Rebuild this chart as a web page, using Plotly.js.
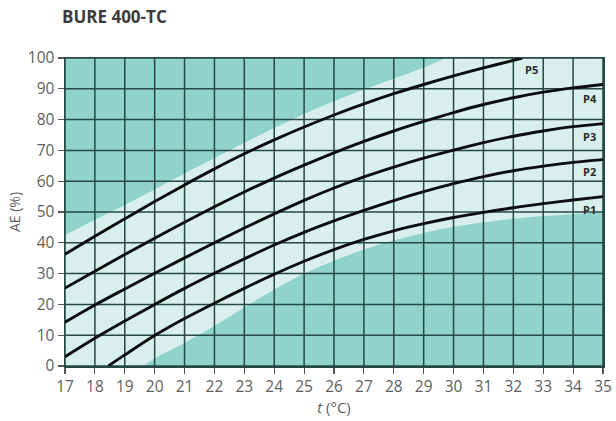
<!DOCTYPE html>
<html>
<head>
<meta charset="utf-8">
<script src="https://cdn.plot.ly/plotly-3.0.1.min.js"></script>
<style>
  html, body { margin: 0; padding: 0; background: #ffffff; }
  #chart { width: 616px; height: 421px; }
</style>
</head>
<body>
<div id="chart"></div>
<script>
// Temperature axis (°C) and efficiency axis (%)
const tTicks = [17, 18, 19, 20, 21, 22, 23, 24, 25, 26, 27, 28, 29, 30, 31, 32, 33, 34, 35];
const aeTicks = [0, 10, 20, 30, 40, 50, 60, 70, 80, 90, 100];
const tRange = [17, 35];
const aeRange = [0, 100];

// Curve P1
const p1T  = [18.45, 19, 20, 21, 22, 23, 24, 25, 26, 27, 28, 29, 30, 31, 32, 33, 34, 35];
const p1AE = [0, 3.6, 9.9, 15.4, 20.4, 25.2, 29.8, 34, 37.8, 41.1, 43.9, 46.2, 48.2, 49.9, 51.4, 52.7, 53.9, 55];
// Curve P2
const p2T  = [17, 18, 19, 20, 21, 22, 23, 24, 25, 26, 27, 28, 29, 30, 31, 32, 33, 34, 35];
const p2AE = [3, 9, 14.6, 20, 25.2, 30.1, 34.8, 39.3, 43.4, 47.1, 50.5, 53.7, 56.6, 59.2, 61.5, 63.4, 64.9, 66.1, 67];
// Curve P3
const p3T  = [17, 18, 19, 20, 21, 22, 23, 24, 25, 26, 27, 28, 29, 30, 31, 32, 33, 34, 35];
const p3AE = [14.2, 19.8, 25, 30.1, 35.1, 40, 44.8, 49.4, 53.8, 57.8, 61.4, 64.6, 67.5, 70.1, 72.5, 74.6, 76.3, 77.7, 78.7];
// Curve P4
const p4T  = [17, 18, 19, 20, 21, 22, 23, 24, 25, 26, 27, 28, 29, 30, 31, 32, 33, 34, 35];
const p4AE = [25.3, 30.8, 36.2, 41.5, 46.7, 51.7, 56.5, 61, 65.2, 69.2, 72.9, 76.3, 79.4, 82.3, 84.9, 87.1, 88.9, 90.3, 91.4];
// Curve P5
const p5T  = [17, 18, 19, 20, 21, 22, 23, 24, 25, 26, 27, 28, 29, 30, 31, 32, 32.3];
const p5AE = [36.3, 42.1, 47.8, 53.4, 58.8, 64, 68.9, 73.4, 77.6, 81.5, 85.1, 88.4, 91.4, 94.2, 96.8, 99.2, 100];

// Edges of the light operating band
const bandTopT  = [17, 18, 19, 20, 21, 22, 23, 24, 25, 26, 27, 28, 29, 29.8];
const bandTopAE = [42.5, 47.5, 52.3, 57.3, 62.5, 67.5, 72.5, 77.3, 81.8, 86, 89.8, 93.3, 96.8, 100];
const bandBotT  = [19.6, 20, 21, 22, 23, 24, 25, 26, 27, 28, 29, 30, 31, 32, 33, 34, 35];
const bandBotAE = [0, 2.5, 7.5, 13, 19, 24.8, 30, 34.2, 37.8, 40.8, 43.2, 45.2, 46.7, 47.8, 48.7, 49.3, 49.8];

// Curve labels
const curveNames = ['P5', 'P4', 'P3', 'P2', 'P1'];
const labelT  = [32.6, 34.55, 34.55, 34.55, 34.55];
const labelAE = [96.3, 87, 74.4, 63.2, 50.8];

const TEAL = 'rgb(143,211,203)';
const LIGHT = 'rgb(216,239,236)';
const GRID = 'rgb(38,72,66)';

// Closed outline of the light band (top edge, right side, bottom edge, left side)
const bandX = [].concat(bandTopT, [tRange[1]], [tRange[1]], bandBotT.slice().reverse(), [tRange[0]]);
const bandY = [].concat(bandTopAE, [aeRange[1]], [bandBotAE[bandBotAE.length - 1]], bandBotAE.slice().reverse(), [aeRange[0]]);

// Grid drawn as a trace so it sits above the band fill
const gridX = [], gridY = [];
tTicks.forEach(t => { gridX.push(t, t, null); gridY.push(aeRange[0], aeRange[1], null); });
aeTicks.forEach(a => { gridX.push(tRange[0], tRange[1], null); gridY.push(a, a, null); });

const curve = (x, y) => ({
  x: x, y: y, type: 'scatter', mode: 'lines',
  line: { color: '#0d0d0d', width: 2.9, shape: 'spline', smoothing: 1 },
  hoverinfo: 'skip', showlegend: false
});

const traces = [
  { x: bandX, y: bandY, type: 'scatter', mode: 'lines', fill: 'toself',
    fillcolor: LIGHT, line: { width: 0, color: LIGHT, shape: 'spline', smoothing: 0.6 },
    hoverinfo: 'skip', showlegend: false },
  { x: gridX, y: gridY, type: 'scatter', mode: 'lines',
    line: { color: GRID, width: 1.5 }, hoverinfo: 'skip', showlegend: false },
  curve(p1T, p1AE), curve(p2T, p2AE), curve(p3T, p3AE), curve(p4T, p4AE), curve(p5T, p5AE)
];

const annotations = curveNames.map((n, i) => ({
  x: labelT[i], y: labelAE[i], xref: 'x', yref: 'y', text: '<b>' + n + '</b>',
  showarrow: false, font: { family: 'Open Sans, sans-serif', size: 11, color: '#2b2b2b' }
}));

const axisCommon = {
  showgrid: false, zeroline: false, showline: true, mirror: true,
  linecolor: GRID, linewidth: 1.5,
  ticks: 'outside', ticklen: 6, tickwidth: 1.2, tickcolor: '#555',
  tickfont: { family: 'Open Sans, sans-serif', size: 15.5, color: 'rgb(95,95,95)' },
  fixedrange: true
};

const layout = {
  width: 616, height: 421,
  margin: { l: 65, r: 13, t: 58, b: 55 },
  paper_bgcolor: '#ffffff',
  plot_bgcolor: TEAL,
  title: {
    text: '<b>BURE 400-TC</b>',
    font: { family: 'Open Sans, sans-serif', size: 17, color: 'rgb(60,60,60)' },
    xref: 'container', x: 62 / 616, xanchor: 'left',
    yref: 'container', y: 1 - 17 / 421, yanchor: 'middle'
  },
  xaxis: Object.assign({}, axisCommon, {
    range: tRange, tickmode: 'array', tickvals: tTicks, ticktext: tTicks.map(String),
    title: { text: '<i>t</i> (°C)', standoff: 4,
      font: { family: 'Open Sans, sans-serif', size: 15, color: 'rgb(95,95,95)' } }
  }),
  yaxis: Object.assign({}, axisCommon, {
    range: aeRange, tickmode: 'array', tickvals: aeTicks, ticktext: aeTicks.map(String),
    title: { text: 'AE (%)', standoff: 4,
      font: { family: 'Open Sans, sans-serif', size: 14, color: 'rgb(95,95,95)' } }
  }),
  annotations: annotations,
  showlegend: false
};

Plotly.newPlot('chart', traces, layout, { displayModeBar: false, staticPlot: true });
</script>
</body>
</html>
